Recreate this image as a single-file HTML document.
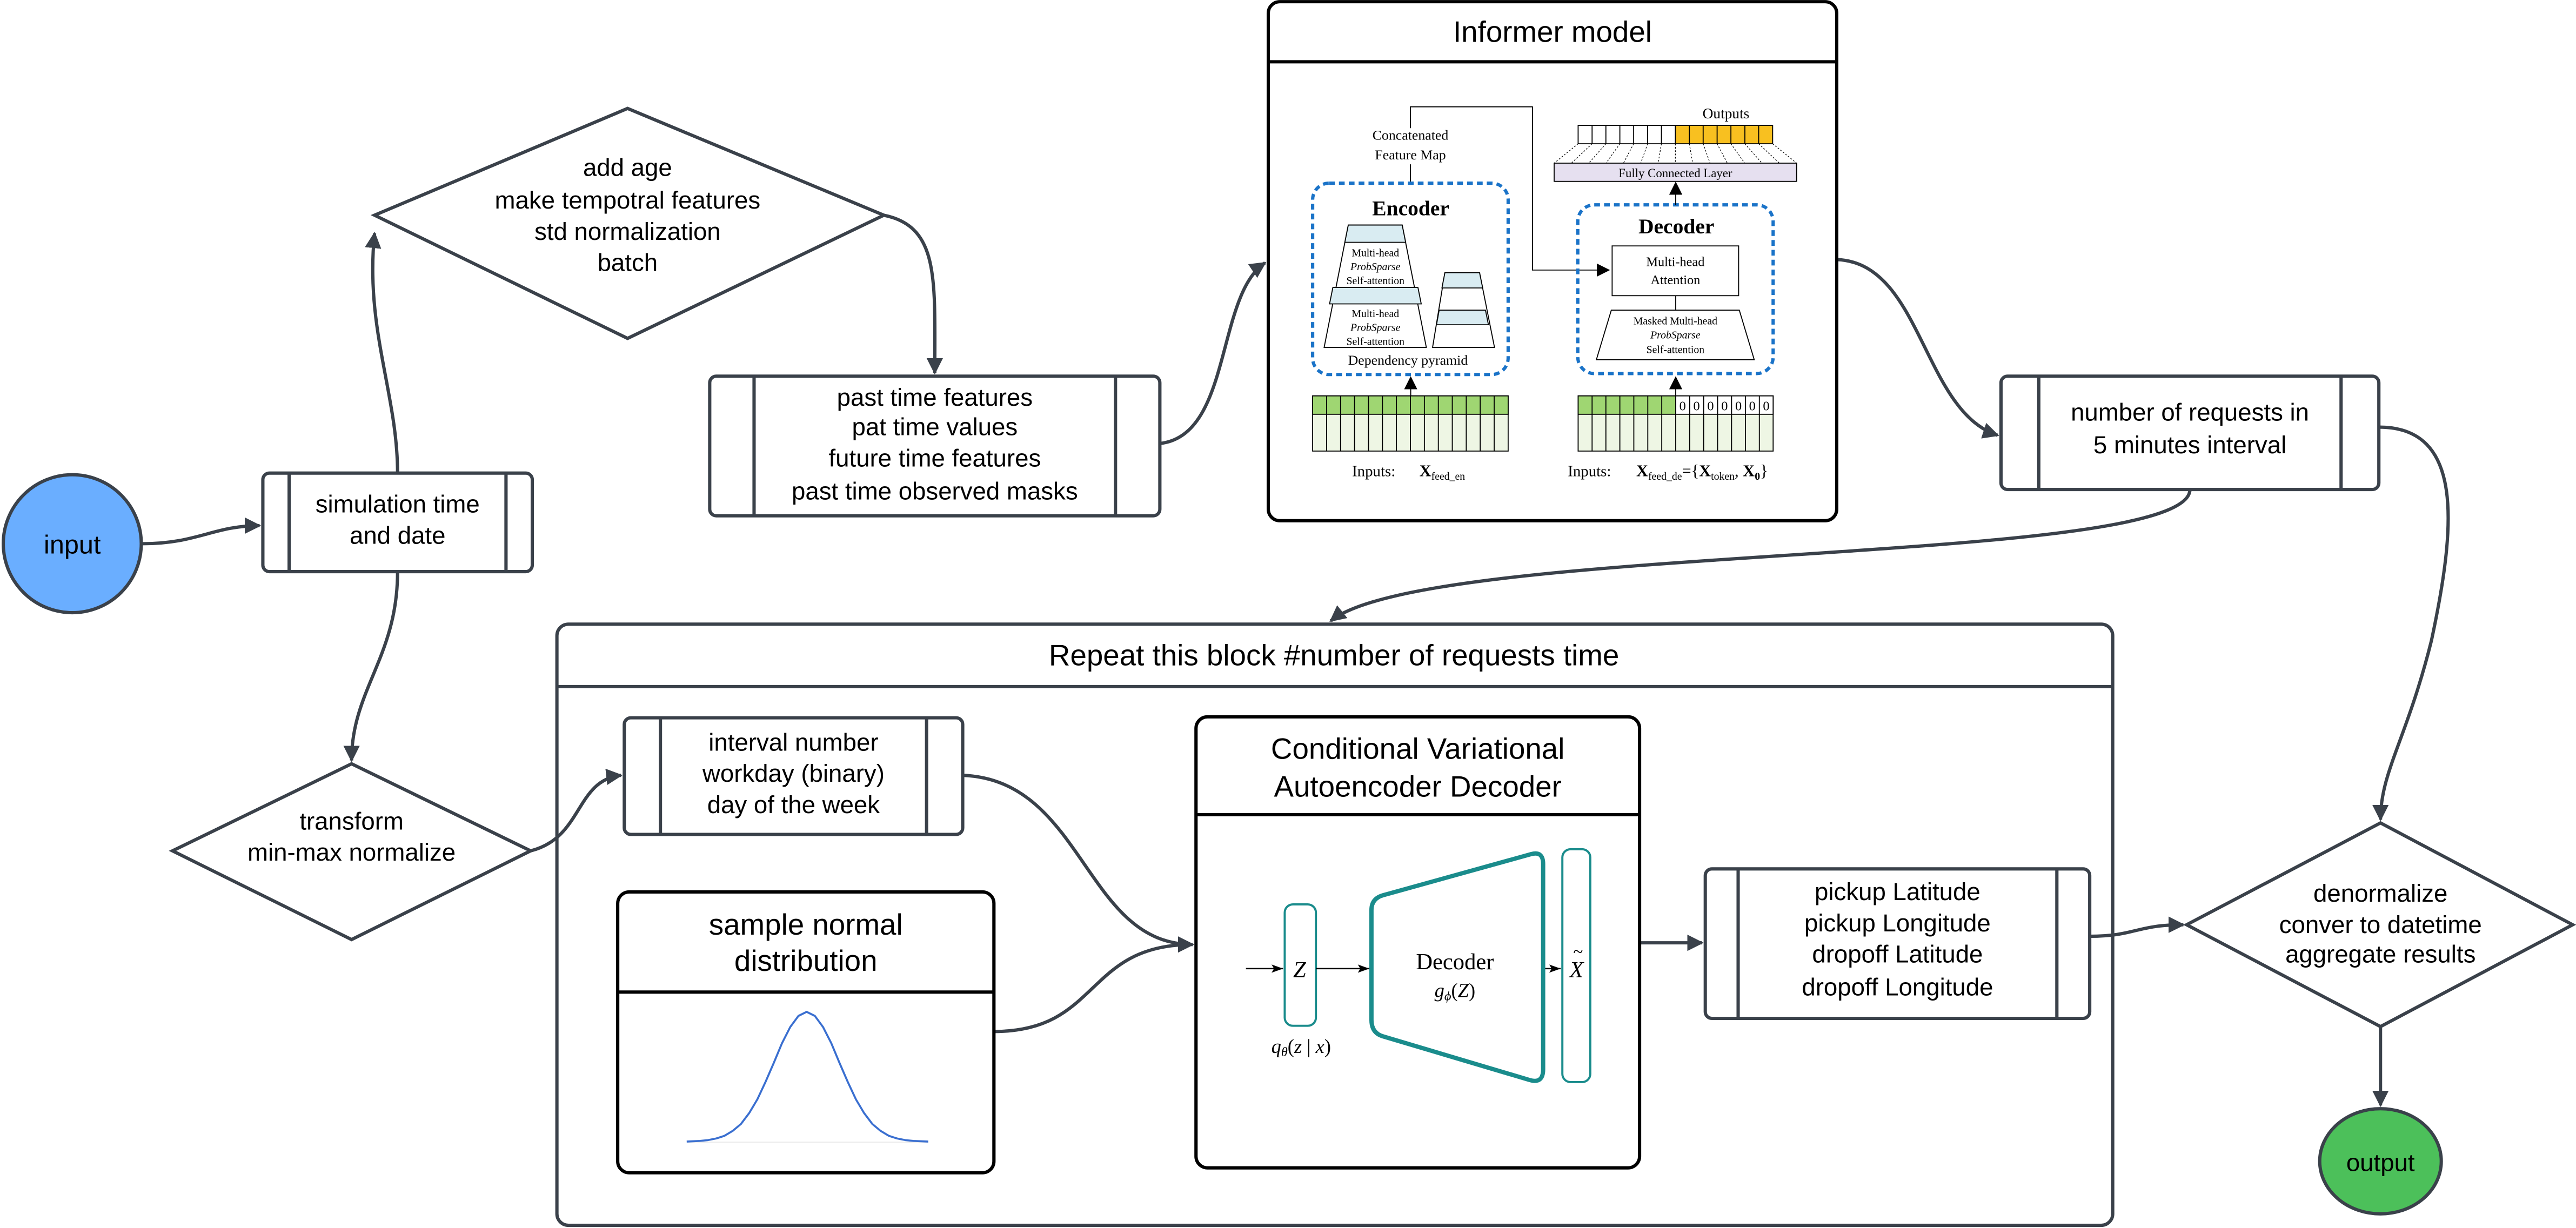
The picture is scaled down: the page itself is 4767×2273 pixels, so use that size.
<!DOCTYPE html>
<html><head><meta charset="utf-8"><style>
html,body{margin:0;padding:0;background:#fff;}
svg{display:block;}
.t{font-family:"Liberation Sans",sans-serif;fill:#000;text-anchor:middle;}
.s{font-family:"Liberation Serif",serif;fill:#000;text-anchor:middle;}
.c{fill:none;stroke:#3a414a;stroke-width:2;}
.b{fill:#fff;stroke:#3a414a;stroke-width:2;}
</style></head><body>
<svg width="4767" height="2273" viewBox="0 0 1568 747.6" xmlns="http://www.w3.org/2000/svg">
<defs>
<marker id="a" markerWidth="10" markerHeight="10" refX="9" refY="5" orient="auto" markerUnits="userSpaceOnUse"><path d="M0,0 L10,5 L0,10 Z" fill="#3a414a"/></marker>
<marker id="k" markerWidth="8" markerHeight="8" refX="7" refY="4" orient="auto" markerUnits="userSpaceOnUse"><path d="M0,0 L8,4 L0,8 Z" fill="#000"/></marker>
<marker id="k2" markerWidth="7" markerHeight="6" refX="7" refY="3" orient="auto" markerUnits="userSpaceOnUse"><path d="M0,0.5 L7,3 L0,5.5 L1.5,3 Z" fill="#000"/></marker>
</defs>

<!-- connectors -->
<path class="c" d="M87,331 C120,331 130,320 158,320" marker-end="url(#a)"/>
<path class="c" d="M242,288 C242,240 222,200 228,142" marker-end="url(#a)"/>
<path class="c" d="M538,131 C572,138 569,170 569,227" marker-end="url(#a)"/>
<path class="c" d="M706,270 C750,265 740,180 770,160" marker-end="url(#a)"/>
<path class="c" d="M1118,158 C1170,160 1170,250 1216,265" marker-end="url(#a)"/>
<path class="c" d="M1448,260 C1500,260 1495,320 1480,390 C1465,450 1449,470 1449,499" marker-end="url(#a)"/>
<path class="c" d="M1333,298 C1333,345 870,330 810,378" marker-end="url(#a)"/>
<path class="c" d="M242,348 C242,400 214,420 214,463" marker-end="url(#a)"/>
<path class="c" d="M323,518 C355,510 350,475 378,472" marker-end="url(#a)"/>
<path class="c" d="M586,472 C660,475 660,575 726,575" marker-end="url(#a)"/>
<path class="c" d="M605,628 C670,628 660,575 726,575" />
<path class="c" d="M998,574 L1036,574" marker-end="url(#a)"/>
<path class="c" d="M1272,570 C1300,570 1300,563 1329,563" marker-end="url(#a)"/>
<path class="c" d="M1449,625 L1449,673" marker-end="url(#a)"/>

<!-- input -->
<ellipse cx="44" cy="331" rx="42" ry="42" fill="#6aaeff" stroke="#3a414a" stroke-width="2"/>
<text class="t" x="44" y="337" font-size="16">input</text>

<!-- simulation -->
<rect class="b" x="160" y="288" width="164" height="60" rx="4"/>
<path class="c" d="M176,288V348M308,288V348"/>
<text class="t" x="242" y="312" font-size="15">simulation time</text>
<text class="t" x="242" y="331" font-size="15">and date</text>

<!-- diamond 1 -->
<path class="b" d="M228,131 L382,66 L538,131 L382,206 Z"/>
<text class="t" font-size="15"><tspan x="382" y="107">add age</tspan><tspan x="382" y="127">make  tempotral features</tspan><tspan x="382" y="146">std normalization</tspan><tspan x="382" y="165">batch</tspan></text>

<!-- past box -->
<rect class="b" x="432" y="229" width="274" height="85" rx="4"/>
<path class="c" d="M459,229V314M679,229V314"/>
<text class="t" font-size="15"><tspan x="569" y="247">past time features</tspan><tspan x="569" y="265">pat time values</tspan><tspan x="569" y="284">future time features</tspan><tspan x="569" y="304">past time observed masks</tspan></text>

<!-- number of requests -->
<rect class="b" x="1218" y="229" width="230" height="69" rx="4"/>
<path class="c" d="M1241,229V298M1425,229V298"/>
<text class="t" font-size="15"><tspan x="1333" y="256">number of requests in</tspan><tspan x="1333" y="276">5 minutes interval</tspan></text>

<!-- Informer model -->
<rect x="772" y="1" width="346" height="316" rx="7" fill="#fff" stroke="#000" stroke-width="2"/>
<path d="M772,37.6H1118" stroke="#000" stroke-width="2"/>
<text class="t" x="945" y="25.5" font-size="18">Informer model</text>
<g stroke="#000" stroke-width="0.6" fill="none">
<path d="M858.5,78V65H932.8V164.4H979" marker-end="url(#k)"/>
<path d="M858.5,100V111.5"/>
</g>
<text class="s" font-size="8.5"><tspan x="858.5" y="85">Concatenated</tspan><tspan x="858.5" y="97">Feature Map</tspan></text>
<rect x="799" y="111.5" width="119" height="116.5" rx="10" fill="none" stroke="#1a73c8" stroke-width="2" stroke-dasharray="3.5,2.5"/>
<text class="s" x="858.7" y="131" font-size="13" font-weight="bold">Encoder</text>
<!-- big pyramid -->
<path d="M820.7,137H853.5L868.2,211.5H806Z" fill="#fff" stroke="#000" stroke-width="0.6"/>
<path d="M820.7,137H853.5L855.6,147.5H818.6Z" fill="#d9ecf2" stroke="#000" stroke-width="0.6"/>
<path d="M811.3,175H863.1L865.1,185H809.3Z" fill="#d9ecf2" stroke="#000" stroke-width="0.6"/>
<text class="s" font-size="6.5"><tspan x="837.2" y="156">Multi-head</tspan><tspan x="837.2" y="164.5" font-style="italic">ProbSparse</tspan><tspan x="837.2" y="173">Self-attention</tspan><tspan x="837.2" y="193">Multi-head</tspan><tspan x="837.2" y="201.5" font-style="italic">ProbSparse</tspan><tspan x="837.2" y="210">Self-attention</tspan></text>
<!-- small pyramid -->
<path d="M879.5,166H900.6L909.7,211.5H872Z" fill="#fff" stroke="#000" stroke-width="0.6"/>
<path d="M879.5,166H900.6L902.5,175.3H877.7Z" fill="#d9ecf2" stroke="#000" stroke-width="0.6"/>
<path d="M876,188.8H904.2L906,197.7H874.4Z" fill="#d9ecf2" stroke="#000" stroke-width="0.6"/>
<text class="s" x="857" y="222" font-size="8.5">Dependency pyramid</text>
<path d="M858.7,241V230" stroke="#000" stroke-width="0.6" marker-end="url(#k)"/>
<!-- encoder input grid -->
<rect x="799" y="241" width="119" height="33.6" fill="#eef6e4" stroke="#000" stroke-width="0.6"/>
<rect x="799" y="241" width="119" height="11.2" fill="#9fd672" stroke="#000" stroke-width="0.6"/>
<path d="M807.5,241V274.6M816,241V274.6M824.5,241V274.6M833,241V274.6M841.5,241V274.6M850,241V274.6M858.5,241V274.6M867,241V274.6M875.5,241V274.6M884,241V274.6M892.5,241V274.6M901,241V274.6M909.5,241V274.6" stroke="#000" stroke-width="0.6"/>
<text class="s" font-size="9.5" text-anchor="start" x="823" y="290" style="text-anchor:start">Inputs:</text>
<text class="s" font-size="10" x="864" y="290" style="text-anchor:start"><tspan font-weight="bold">X</tspan><tspan font-size="6.5" dy="2">feed_en</tspan></text>
<!-- decoder -->
<rect x="960.4" y="124.7" width="118.9" height="102.7" rx="10" fill="none" stroke="#1a73c8" stroke-width="2" stroke-dasharray="3.5,2.5"/>
<text class="s" x="1020.4" y="142" font-size="13" font-weight="bold">Decoder</text>
<rect x="981.3" y="149.7" width="77" height="30.3" fill="#fff" stroke="#000" stroke-width="0.6"/>
<text class="s" font-size="8"><tspan x="1019.8" y="162">Multi-head</tspan><tspan x="1019.8" y="173">Attention</tspan></text>
<path d="M1020,180V188.8" stroke="#000" stroke-width="0.6"/>
<path d="M980.8,188.8H1058.7L1067.8,219H971.7Z" fill="#fff" stroke="#000" stroke-width="0.6"/>
<text class="s" font-size="6.5"><tspan x="1019.8" y="197.5">Masked Multi-head</tspan><tspan x="1019.8" y="206" font-style="italic">ProbSparse</tspan><tspan x="1019.8" y="215">Self-attention</tspan></text>
<path d="M1020,124.7V111.5" stroke="#000" stroke-width="0.6" marker-end="url(#k)"/>
<rect x="946" y="99.3" width="147.6" height="11.1" fill="#e6e0f0" stroke="#000" stroke-width="0.6"/>
<text class="s" x="1019.8" y="107.8" font-size="7.5">Fully Connected Layer</text>
<g stroke="#000" stroke-width="0.4" stroke-dasharray="1,1">
<path d="M960.6,87.5L946,99.3M969.1,87.5L956.5,99.3M977.5,87.5L967.1,99.3M986,87.5L977.6,99.3M994.4,87.5L988.2,99.3M1002.9,87.5L998.7,99.3M1011.3,87.5L1009.3,99.3M1019.8,87.5L1019.8,99.3M1028.3,87.5L1030.3,99.3M1036.7,87.5L1040.9,99.3M1045.2,87.5L1051.4,99.3M1053.6,87.5L1062,99.3M1062.1,87.5L1072.5,99.3M1070.5,87.5L1083.1,99.3M1079,87.5L1093.6,99.3"/>
</g>
<rect x="960.6" y="76.3" width="59.2" height="11.2" fill="#fff" stroke="#000" stroke-width="0.6"/>
<rect x="1019.8" y="76.3" width="59.2" height="11.2" fill="#f8c020" stroke="#000" stroke-width="0.6"/>
<path d="M969.1,76.3V87.5M977.5,76.3V87.5M986,76.3V87.5M994.4,76.3V87.5M1002.9,76.3V87.5M1011.3,76.3V87.5M1028.3,76.3V87.5M1036.7,76.3V87.5M1045.2,76.3V87.5M1053.6,76.3V87.5M1062.1,76.3V87.5M1070.5,76.3V87.5" stroke="#000" stroke-width="0.6"/>
<text class="s" x="1050.6" y="72" font-size="9">Outputs</text>
<path d="M1020,241V230" stroke="#000" stroke-width="0.6" marker-end="url(#k)"/>
<rect x="960.6" y="241" width="118.7" height="33.6" fill="#eef6e4" stroke="#000" stroke-width="0.6"/>
<rect x="960.6" y="241" width="59.4" height="11.2" fill="#9fd672" stroke="#000" stroke-width="0.6"/>
<rect x="1020" y="241" width="59.3" height="11.2" fill="#fff" stroke="#000" stroke-width="0.6"/>
<path d="M969.1,241V274.6M977.5,241V274.6M986,241V274.6M994.5,241V274.6M1003,241V274.6M1011.5,241V274.6M1020,241V274.6M1028.5,241V274.6M1037,241V274.6M1045.5,241V274.6M1054,241V274.6M1062.4,241V274.6M1070.9,241V274.6" stroke="#000" stroke-width="0.6"/>
<text class="s" font-size="8"><tspan x="1024.2" y="249.8">0</tspan><tspan x="1032.7" y="249.8">0</tspan><tspan x="1041.2" y="249.8">0</tspan><tspan x="1049.7" y="249.8">0</tspan><tspan x="1058.2" y="249.8">0</tspan><tspan x="1066.6" y="249.8">0</tspan><tspan x="1075.1" y="249.8">0</tspan></text>
<text class="s" font-size="9.5" x="954.3" y="290" style="text-anchor:start">Inputs:</text>
<text class="s" font-size="10" x="996" y="290" style="text-anchor:start"><tspan font-weight="bold">X</tspan><tspan font-size="6.5" dy="2">feed_de</tspan><tspan dy="-2">={</tspan><tspan font-weight="bold">X</tspan><tspan font-size="6.5" dy="2">token</tspan><tspan dy="-2">, </tspan><tspan font-weight="bold">X</tspan><tspan font-size="6.5" dy="2" font-weight="bold">0</tspan><tspan dy="-2">}</tspan></text>

<!-- Repeat block -->
<rect x="339" y="380" width="947" height="366" rx="7" fill="none" stroke="#3a414a" stroke-width="2"/>
<path d="M339,418H1286" stroke="#3a414a" stroke-width="2"/>
<text class="t" x="812" y="405" font-size="18">Repeat this block #number of requests time</text>

<!-- transform diamond -->
<path class="b" d="M105,518 L214,465 L323,518 L214,572 Z"/>
<text class="t" font-size="15"><tspan x="214" y="505">transform</tspan><tspan x="214" y="524">min-max normalize</tspan></text>

<!-- interval box -->
<rect class="b" x="380" y="437" width="206" height="71" rx="4"/>
<path class="c" d="M402,437V508M564,437V508"/>
<text class="t" font-size="15"><tspan x="483" y="457">interval number</tspan><tspan x="483" y="476">workday (binary)</tspan><tspan x="483" y="495">day of the week</tspan></text>

<!-- sample normal -->
<rect x="376" y="543" width="229" height="171" rx="7" fill="#fff" stroke="#000" stroke-width="2"/>
<path d="M376,604H605" stroke="#000" stroke-width="2"/>
<text class="t" font-size="18"><tspan x="490.5" y="569">sample normal</tspan><tspan x="490.5" y="591">distribution</tspan></text>
<path d="M418,695.5H565" stroke="#eee" stroke-width="1"/>
<polyline fill="none" stroke="#3a6fd0" stroke-width="1.2" stroke-linejoin="round" points="418,695 426,694.6 431,694.1 436,693.1 441,691.5 446,688.5 451,684.3 456,677.7 461,669.3 466,658.6 471,647.1 476,635.1 481,625.3 486,618.5 491,616 496,618.5 501,625.3 506,635.1 511,647.1 516,658.6 521,669.3 526,677.7 531,684.3 536,688.5 541,691.5 546,693.1 551,694.1 556,694.6 565,695"/>

<!-- CVAE -->
<rect x="728" y="436.4" width="270" height="274.6" rx="7" fill="#fff" stroke="#000" stroke-width="2"/>
<path d="M728,496H998" stroke="#000" stroke-width="2"/>
<text class="t" font-size="18"><tspan x="863" y="462">Conditional Variational</tspan><tspan x="863" y="485">Autoencoder Decoder</tspan></text>
<rect x="782" y="550.6" width="19" height="73.9" rx="5" fill="none" stroke="#1a8c8c" stroke-width="1.3"/>
<path d="M758.4,589.7H781" stroke="#000" stroke-width="0.8" marker-end="url(#k2)"/>
<path d="M801,589.7H833.5" stroke="#000" stroke-width="0.8" marker-end="url(#k2)"/>
<path d="M940,589.7H950" stroke="#000" stroke-width="0.8" marker-end="url(#k2)"/>
<text class="s" x="791" y="595" font-size="14" font-style="italic">Z</text>
<path d="M834.8,554 Q834.8,547 842,545 L932,520 Q939.3,518 939.3,526 L939.3,651 Q939.3,660 931,657.5 L842,631 Q834.8,629 834.8,621 Z" fill="none" stroke="#1a8c8c" stroke-width="2.6"/>
<text class="s" x="885.6" y="590" font-size="14">Decoder</text>
<text class="s" x="885.6" y="607" font-size="12" font-style="italic">g<tspan font-size="8" dy="2">ϕ</tspan><tspan dy="-2" font-style="normal">(</tspan>Z<tspan font-style="normal">)</tspan></text>
<rect x="951" y="517" width="17" height="141.8" rx="5" fill="none" stroke="#1a8c8c" stroke-width="1.3"/>
<text class="s" x="959.6" y="595" font-size="14" font-style="italic">X</text>
<text class="s" x="960.6" y="583" font-size="11">~</text>
<text class="s" x="792" y="641" font-size="12" font-style="italic">q<tspan font-size="8" dy="2">θ</tspan><tspan dy="-2" font-style="normal">(</tspan>z <tspan font-style="normal">|</tspan> x<tspan font-style="normal">)</tspan></text>

<!-- pickup box -->
<rect class="b" x="1038" y="529" width="234" height="91" rx="4"/>
<path class="c" d="M1058,529V620M1252,529V620"/>
<text class="t" font-size="15"><tspan x="1155" y="548">pickup Latitude</tspan><tspan x="1155" y="567">pickup Longitude</tspan><tspan x="1155" y="586">dropoff Latitude</tspan><tspan x="1155" y="606">dropoff Longitude</tspan></text>

<!-- denormalize diamond -->
<path class="b" d="M1331,563 L1449,501 L1566,563 L1449,625 Z"/>
<text class="t" font-size="15"><tspan x="1449" y="549">denormalize</tspan><tspan x="1449" y="568">conver to datetime</tspan><tspan x="1449" y="586">aggregate results</tspan></text>

<!-- output -->
<ellipse cx="1449" cy="707" rx="37" ry="32" fill="#4cc05a" stroke="#3a414a" stroke-width="2"/>
<text class="t" x="1449" y="713" font-size="15">output</text>
</svg>
</body></html>
